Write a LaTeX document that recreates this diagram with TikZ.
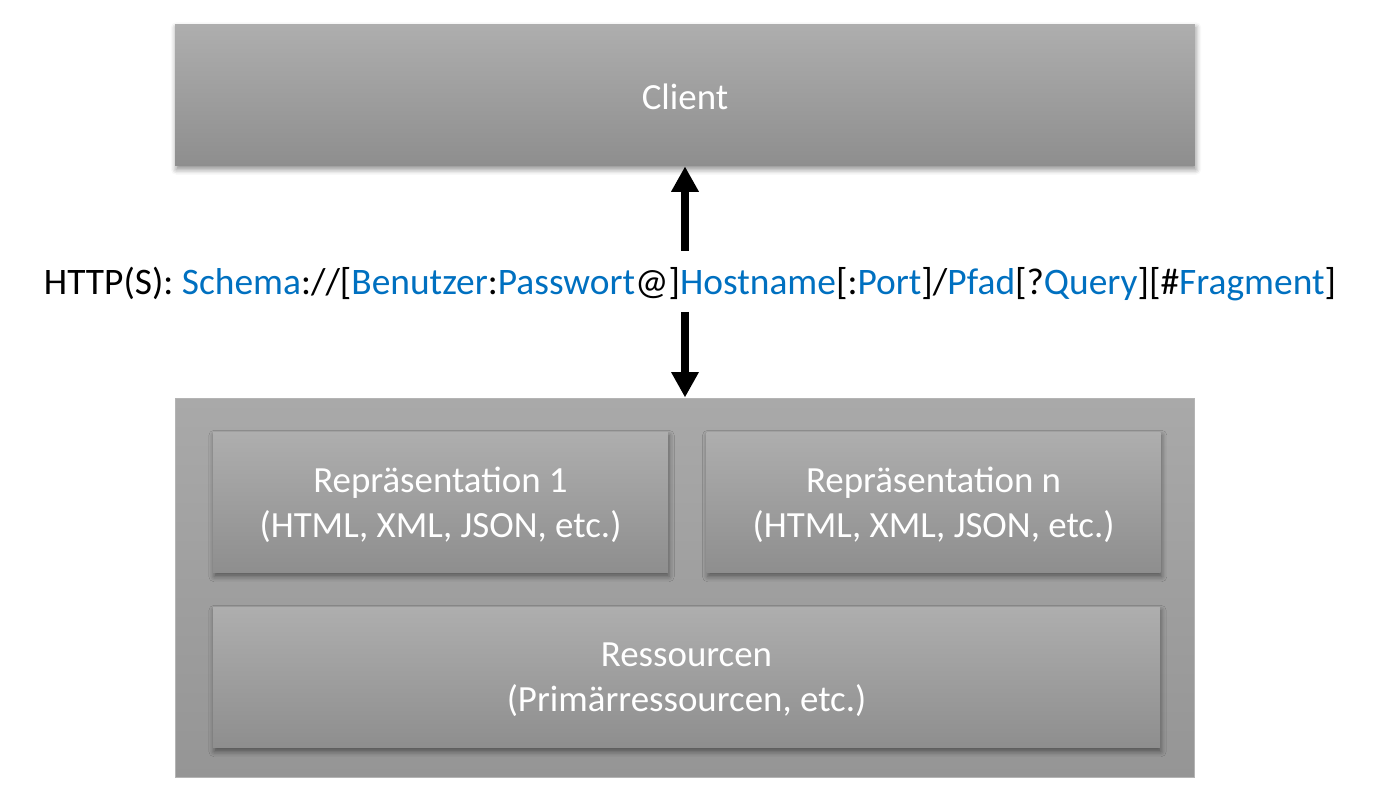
\documentclass[tikz,border=0pt]{standalone}
\usepackage{fontspec}
\setmainfont{Carlito}
\usetikzlibrary{positioning,arrows.meta,shadows.blur}

\definecolor{boxtop}{HTML}{AEAEAE}
\definecolor{boxbottom}{HTML}{8E8E8E}
\definecolor{srvtop}{HTML}{A9A9A9}
\definecolor{srvbottom}{HTML}{959595}
\definecolor{srvline}{HTML}{B4B4B4}
\definecolor{urlblue}{HTML}{0070C0}

\newcommand{\ub}[1]{\textcolor{urlblue}{#1}}

\begin{document}
\begin{tikzpicture}[x=0.02cm, y=-0.02cm,
    graybox/.style = {rectangle, top color=boxtop, bottom color=boxbottom,
        text=white, align=center, font=\fontsize{21}{25.6}\selectfont,
        blur shadow={shadow xshift=0.6pt, shadow yshift=-2pt,
            shadow blur radius=3pt, shadow opacity=45}},
    serverbox/.style = {rectangle, draw=srvline, line width=0.6pt,
        top color=srvtop, bottom color=srvbottom},
    bigarrow/.style = {line width=4.6pt,
        -{Triangle[length=14.5pt, width=14.8pt]}}]
     \useasboundingbox (0,0) rectangle (1377,800);

     % client side
     \node[graybox, minimum width=20.4cm, minimum height=2.84cm, text height=17pt] (client) at (685,95) {Client};

     % the url in the middle
     \node[font=\fontsize{21.3}{26}\selectfont] (url) at (690,284)
        {HTTP(S): \ub{Schema}://[\ub{Benutzer}:\ub{Passwort}@]\ub{Hostname}[:\ub{Port}]/\ub{Pfad}[?\ub{Query}][\#\ub{Fragment}]};

     % server side
     \node[serverbox, minimum width=20.4cm, minimum height=7.6cm] (server) at (685,588) {};
     \node[graybox, minimum width=9.1cm, minimum height=2.82cm, text depth=0pt] (repone) at (440.5,502.5)
        {Repräsentation 1\\(HTML, XML, JSON, etc.)};
     \node[graybox, minimum width=9.08cm, minimum height=2.82cm, text depth=0pt] (repn) [right=0.76cm of repone]
        {Repräsentation n\\(HTML, XML, JSON, etc.)};
     \node[graybox, minimum width=18.94cm, minimum height=2.82cm, text depth=0pt] (res) at (686.5,677.5)
        {Ressourcen\\(Primärressourcen, etc.)};

     \coordinate (uptail) at (685,251);
     \coordinate (downtail) at (685,312);
     \draw[bigarrow] (uptail) -- (client.south -| uptail);
     \draw[bigarrow] (downtail) -- (server.north -| downtail);
\end{tikzpicture}
\end{document}
